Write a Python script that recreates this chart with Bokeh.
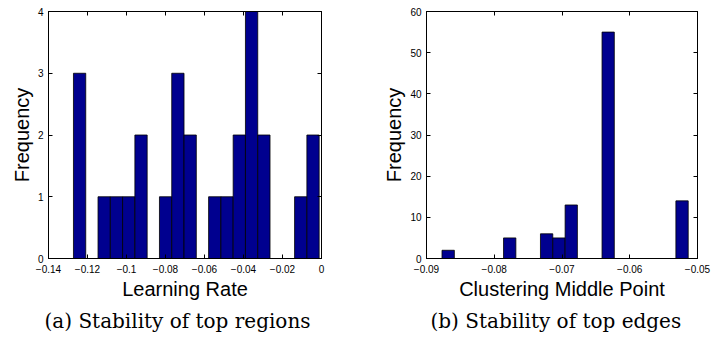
from bokeh.plotting import figure
from bokeh.models import Range1d, FixedTicker, LinearAxis, Title, CustomLabelingPolicy
from bokeh.layouts import row
from bokeh.embed import file_html
from bokeh.resources import INLINE

# ---- Panel (a): Learning Rate histogram ----
lr_edges = [-0.1272, -0.1209, -0.1146, -0.1083, -0.1020, -0.0957, -0.0894,
            -0.0831, -0.0768, -0.0705, -0.0642, -0.0579, -0.0516, -0.0453,
            -0.0390, -0.0327, -0.0264, -0.0201, -0.0138, -0.0075, -0.0012]
lr_counts = [3, 0, 1, 1, 1, 2, 0, 1, 3, 2, 0, 1, 1, 2, 4, 2, 0, 0, 1, 2]
lr_xticks = [-0.14, -0.12, -0.10, -0.08, -0.06, -0.04, -0.02, 0.0]
lr_xlabels = ["\u22120.14", "\u22120.12", "\u22120.1", "\u22120.08", "\u22120.06",
              "\u22120.04", "\u22120.02", "0"]
lr_yticks = [0, 1, 2, 3, 4]

# ---- Panel (b): Clustering Middle Point histogram ----
cm_edges = [-0.08771, -0.08589, -0.08408, -0.08226, -0.08044, -0.07863, -0.07681,
            -0.07499, -0.07318, -0.07136, -0.06954, -0.06773, -0.06591, -0.06409,
            -0.06228, -0.06046, -0.05864, -0.05682, -0.05501, -0.05319, -0.05137]
cm_counts = [2, 0, 0, 0, 0, 5, 0, 0, 6, 5, 13, 0, 0, 55, 0, 0, 0, 0, 0, 14]
cm_xticks = [-0.09, -0.08, -0.07, -0.06, -0.05]
cm_xlabels = ["\u22120.09", "\u22120.08", "\u22120.07", "\u22120.06", "\u22120.05"]
cm_yticks = [0, 10, 20, 30, 40, 50, 60]

BAR = "#00008F"
TICK_FONT = "10px"
LABEL_FONT = "20px"

HIDE_ALL = """
for (const i of indices)
    indices.unset(i)
return indices
"""


def style_axis(ax, show_labels=True):
    ax.major_tick_in = 4
    ax.major_tick_out = 0
    ax.minor_tick_line_color = None
    ax.axis_line_color = "black"
    ax.major_tick_line_color = "black"
    ax.major_label_text_font = "Liberation Sans"
    ax.major_label_text_color = "black"
    ax.major_label_text_font_size = TICK_FONT
    ax.axis_label_text_font = "Liberation Sans"
    ax.axis_label_text_font_style = "normal"
    ax.axis_label_text_color = "black"
    ax.axis_label_text_font_size = LABEL_FONT
    if not show_labels:
        ax.major_label_policy = CustomLabelingPolicy(code=HIDE_ALL)
        ax.major_label_standoff = 0


def make_panel(edges, counts, xr, yr, xticks, xlabels, yticks, xlabel, caption,
               width, bl, br, cap_offset):
    p = figure(width=width, height=337, output_backend="svg", toolbar_location=None,
               x_range=Range1d(*xr), y_range=Range1d(*yr),
               min_border_left=bl, min_border_right=br,
               min_border_top=11, min_border_bottom=78)
    p.grid.visible = False
    p.outline_line_color = "black"
    p.background_fill_color = "white"
    p.border_fill_color = "white"

    p.quad(left=edges[:-1], right=edges[1:], top=counts, bottom=0,
           fill_color=BAR, line_color="black", line_width=0.8)

    xt = FixedTicker(ticks=xticks)
    yt = FixedTicker(ticks=yticks)

    xa = p.xaxis[0]
    xa.ticker = xt
    xa.major_label_overrides = {t: l for t, l in zip(xticks, xlabels)}
    xa.axis_label = xlabel
    xa.major_label_standoff = 6
    xa.axis_label_standoff = 2
    style_axis(xa)

    ya = p.yaxis[0]
    ya.ticker = yt
    ya.axis_label = "Frequency"
    ya.major_label_standoff = 5
    ya.axis_label_standoff = 2
    style_axis(ya)
    ya.major_label_orientation = "horizontal"

    top = LinearAxis(ticker=xt)
    style_axis(top, show_labels=False)
    p.add_layout(top, "above")
    right = LinearAxis(ticker=yt)
    style_axis(right, show_labels=False)
    p.add_layout(right, "right")

    cap = Title(text=caption, align="left", text_font="DejaVu Serif",
                text_font_size="20px", text_font_style="normal",
                text_color="black", offset=cap_offset, standoff=9)
    p.add_layout(cap, "below")
    return p


p1 = make_panel(lr_edges, lr_counts, (-0.14, 0.0), (0, 4), lr_xticks, lr_xlabels,
                lr_yticks, "Learning Rate", "(a) Stability of top regions",
                363, 48, 42, -4)
p2 = make_panel(cm_edges, cm_counts, (-0.09, -0.05), (0, 60), cm_xticks, cm_xlabels,
                cm_yticks, "Clustering Middle Point", "(b) Stability of top edges",
                348, 63, 11, 4)

layout = row(p1, p2)
open("out.html", "w").write(file_html(layout, INLINE))
